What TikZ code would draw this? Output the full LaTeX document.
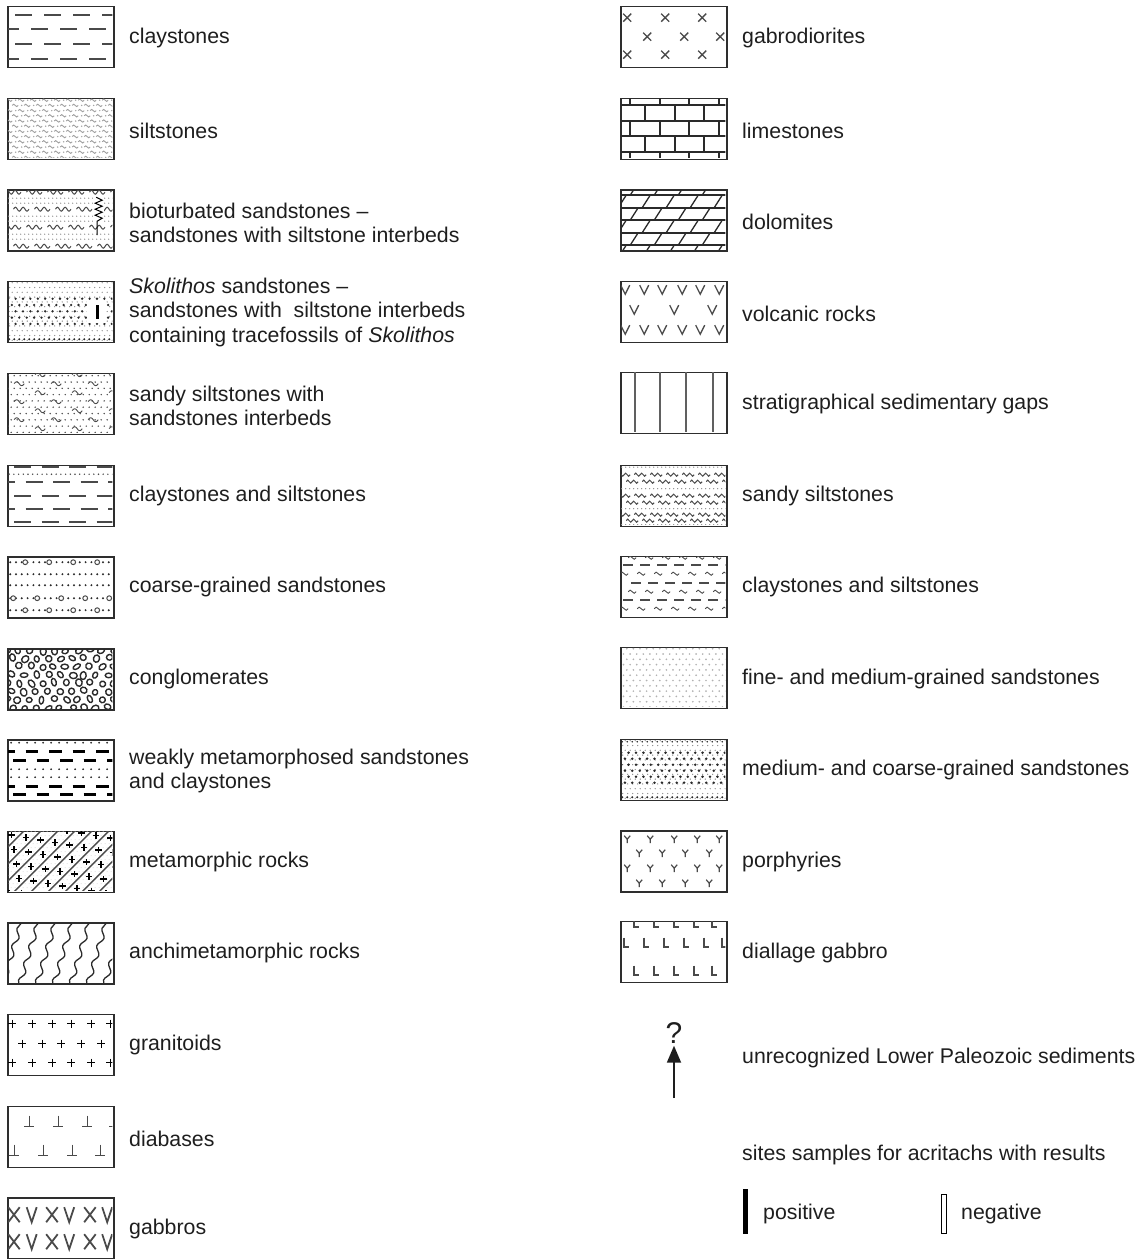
\documentclass[tikz,border=0pt]{standalone}
\usepackage{fontspec}
\setmainfont{Liberation Sans}
\usetikzlibrary{arrows.meta,decorations.pathmorphing}
\definecolor{boxc}{HTML}{2E2E2E}
\definecolor{txtc}{HTML}{1E1E1E}
\definecolor{patc}{HTML}{4A4A4A}
\definecolor{lightc}{HTML}{8C8C8C}
\definecolor{darkc}{HTML}{2A2A2A}
\newcommand\legpat[2]{\begin{scope}[shift={(#1.north west)}]\clip (0.9,0.9) rectangle (105.1,60.1);#2\end{scope}}
\tikzset{
 wv/.pic={\draw[line width=0.9] (-5,0) .. controls (-3.6,-2.6) and (-1.4,-2.6) .. (0,0) .. controls (1.4,2.6) and (3.6,2.6) .. (5,0);},
 wvd/.pic={\draw[line width=1] (-7,0) sin (-5.25,-1.8) cos (-3.5,0) sin (-1.75,1.8) cos (0,0) sin (1.75,-1.8) cos (3.5,0) sin (5.25,1.8) cos (7,0);},
 crs/.pic={\draw[line width=1.2] (-3.2,0) -- (3.2,0) (0,-3.2) -- (0,3.2);},
 xpic/.pic={\draw[line width=1.3] (-4,-4) -- (4,4) (-4,4) -- (4,-4);},
 vpic/.pic={\draw[line width=1.3] (-4.5,-4.5) -- (0,4.5) -- (4.5,-4.5);},
 tpic/.pic={\draw[line width=1.3] (0,-11) -- (0,0) (-5,0) -- (5,0);},
 ypic/.pic={\draw[line width=1.2] (-3,-3.5) -- (0,0) -- (3,-3.5) (0,0) -- (0,4);},
 lpic/.pic={\draw[line width=1.8] (0,-9) -- (0,0) -- (5,0);},
}
\begin{document}
\begin{tikzpicture}[x=1pt,y=-1pt,
  lbox/.style={draw=boxc, line width=1.6, minimum width=106, minimum height=61, inner sep=0},
  lab/.style={anchor=west, inner sep=0, align=left, yshift=-2pt, font=\fontsize{21.3}{24.5}\selectfont, text=txtc}]
\useasboundingbox (0,0) rectangle (1141,1259);

% ---------- LEFT COLUMN ----------
% L1 claystones
\node[lbox] (L1) at (61,37) {};
\legpat{L1}{\foreach \v/\o in {9/8,23/-5,38/8,53/-5} \foreach \k in {0,...,4} \draw[patc,line width=2.2] ({\o+29*\k},\v) -- ++(17,0);}
\node[lab] (t1) at (129,36) {claystones};

% L2 siltstones
\node[lbox] (L2) at (61,129) {};
\legpat{L2}{\foreach \r in {0,...,11} \foreach \k in {0,...,9} {
  \pic[gray!75,scale=0.6] at ({mod(\r,2)*6+12*\k+2},{2.5+5.2*\r}) {wv};
  \fill[gray!70] ({mod(\r,2)*6+12*\k+8.5},{2.5+5.2*\r}) circle (0.8);}}
\node[lab] (t2) at (129,129) {siltstones};

% L3 bioturbated sandstones
\node[lbox] (L3) at (61,220.5) {};
\legpat{L3}{
 \foreach \v in {9,14,27,32,45,50} \foreach \k in {0,...,26} \fill[lightc] ({1.5+4*\k},\v) circle (0.7);
 \foreach \v/\o in {3/6,20/14,38/6,57/14} \foreach \k in {0,...,5} \pic[patc,scale=1.1] at ({\o+21*\k},\v) {wvd};
 \fill[white] (86,7) rectangle (97,34);
 \draw[black,line width=1] (89,8) -- (95,11) -- (88,14) -- (95,17) -- (88,20) -- (95,23) -- (88,26) -- (95,29) -- (90,32) -- (90,46);}
\node[lab] (t3) at (129,221) {bioturbated sandstones –\\sandstones with siltstone interbeds};

% L4 Skolithos sandstones
\node[lbox] (L4) at (61,312) {};
\legpat{L4}{
 \foreach \r in {0,...,12} \foreach \k in {0,...,22} \fill[lightc] ({mod(\r,2)*2.5+5*\k},{2+4.8*\r}) circle (0.7);
 \foreach \r in {0,...,4} \foreach \k in {0,...,14} \fill[darkc] ({mod(\r,2)*3.7+7.4*\k+1},{18+6.3*\r}) circle (1.3);
 \foreach \k in {0,...,21} \fill[darkc] ({2+5*\k},58.5) circle (1.1);
 \fill[white] (80,20) rectangle (99,42);
 \fill[black] (88.5,24) rectangle (91.5,38);}
\node[lab] (t4) at (129,310) {\textit{Skolithos} sandstones –\\sandstones with\ \ siltstone interbeds\\containing tracefossils of \textit{Skolithos}};

% L5 sandy siltstones with sandstones interbeds
\node[lbox] (L5) at (61,404) {};
\legpat{L5}{
 \foreach \r in {0,...,9} \foreach \k in {0,...,18} \fill[patc] ({mod(\r,2)*3+6*\k+1},{3+6.3*\r}) circle (0.8);
 \foreach \r in {0,...,6} \foreach \k in {0,...,3} \pic[patc] at ({12+21*mod(\r+1,2)+37*\k-37},{2+9*\r}) {wv};}
\node[lab] (t5) at (129,404) {sandy siltstones with\\sandstones interbeds};

% L6 claystones and siltstones
\node[lbox] (L6) at (61,496) {};
\legpat{L6}{
 \foreach \v/\o in {2/7,17/-9,31/7,44/-9,57/7} \foreach \k in {0,...,4} \draw[patc,line width=2.2] ({\o+27.5*\k},\v) -- ++(17,0);
 \foreach \k in {0,...,22} \fill[patc] ({2+4.7*\k},9.5) circle (0.8);}
\node[lab] (t6) at (129,494) {claystones and siltstones};

% L7 coarse-grained sandstones
\node[lbox] (L7) at (61,587.5) {};
\legpat{L7}{
 \foreach \v in {6,18,29,42,54} \foreach \k in {0,...,18} \fill[darkc] ({3+5.8*\k},\v) circle (1.1);
 \foreach \v/\o in {6/18,42/6,54/18} \foreach \k in {0,...,4} \filldraw[fill=white,draw=patc,line width=1] ({\o+24*\k},\v) circle (2.4);}
\node[lab] (t7) at (129,585) {coarse-grained sandstones};

% L8 conglomerates
\node[lbox] (L8) at (61,679.5) {};
\legpat{L8}{\pgfmathsetseed{11}
 \foreach \r in {0,...,7}{\foreach \k in {0,...,9}{
  \pgfmathsetmacro\cgx{mod(\r,2)*6+12*\k-1+1.5*rand}
  \pgfmathsetmacro\cgy{2+8.2*\r+1.2*rand}
  \pgfmathsetmacro\cga{2.8+1.4*rnd}
  \pgfmathsetmacro\cgb{2.2+1.1*rnd}
  \pgfmathsetmacro\cgr{180*rnd}
  \draw[darkc,line width=1.4,rotate around={\cgr:(\cgx,\cgy)}] (\cgx,\cgy) ellipse ({\cga} and {\cgb});}}}
\node[lab] (t8) at (129,677) {conglomerates};

% L9 weakly metamorphosed
\node[lbox] (L9) at (61,770.5) {};
\legpat{L9}{
 \foreach \v in {3.5,30,38} \foreach \k in {0,...,13} \fill[black!85] ({4+8*\k},\v) circle (1);
 \foreach \v/\o in {12.5/-5,21.5/6,47/-5,55/6} \foreach \k in {0,...,5} \draw[black,line width=2.6] ({\o+23.5*\k},\v) -- ++(12.5,0);}
\node[lab] (t9) at (129,769) {weakly metamorphosed sandstones\\and claystones};

% L10 metamorphic rocks
\node[lbox] (L10) at (61,862) {};
\legpat{L10}{
 \foreach \r in {0,...,15} \foreach \k in {0,...,26} \fill[gray!35] ({mod(\r,2)*2+4*\k},{1+4*\r}) circle (0.5);
 \foreach \k in {0,...,10} \draw[patc,line width=1.3] ({-61+17*\k},61) -- ({17*\k},0);
 \foreach \k in {0,...,9} \foreach \m in {-3,...,4} \pic[black] at ({(8.5+17*\k+24*\m+12*mod(\k,2))/2},{(8.5+17*\k-24*\m-12*mod(\k,2))/2}) {crs};}
\node[lab] (t10) at (129,860) {metamorphic rocks};

% L11 anchimetamorphic rocks
\node[lbox] (L11) at (61,953.5) {};
\legpat{L11}{
 \foreach \k in {0,...,8} \draw[darkc,line width=1.3,decorate,decoration={snake,amplitude=2.4,segment length=18}] ({-22+17*\k},64) -- ({-2+17*\k},-3);}
\node[lab] (t11) at (129,951) {anchimetamorphic rocks};

% L12 granitoids
\node[lbox] (L12) at (61,1045) {};
\legpat{L12}{
 \foreach \x in {5,25,45,64,84,103} {\pic[black,scale=1.25] at (\x,10) {crs}; \pic[black,scale=1.25] at (\x,49) {crs};}
 \foreach \x in {15,35,54,74,94} \pic[black,scale=1.25] at (\x,30) {crs};}
\node[lab] (t12) at (129,1043) {granitoids};

% L13 diabases
\node[lbox] (L13) at (61,1137) {};
\legpat{L13}{
 \foreach \x in {22,51,80,107} \pic[patc] at (\x,21) {tpic};
 \foreach \x in {7,36,65,93} \pic[patc] at (\x,50) {tpic};}
\node[lab] (t13) at (129,1137) {diabases};

% L14 gabbros
\node[lbox] (L14) at (61,1228.5) {};
\legpat{L14}{
 \foreach \v in {10,37} {
  \foreach \x in {1,39,77} \draw[patc,line width=1.8] (\x,\v) -- ++(11.5,15) ++(0,-15) -- ++(-11.5,15);
  \foreach \x in {19.5,57,95} \draw[patc,line width=1.8] (\x,\v) -- ++(5,15) -- ++(5,-15);}}
\node[lab] (t14) at (129,1227) {gabbros};

% ---------- RIGHT COLUMN ----------
% R1 gabrodiorites
\node[lbox] (R1) at (674,37) {};
\legpat{R1}{
 \foreach \x in {7,45,82} {\pic[patc] at (\x,12) {xpic}; \pic[patc] at (\x,49) {xpic};}
 \foreach \x in {27,64,100} \pic[patc] at (\x,31) {xpic};}
\node[lab] (r1) at (742,36) {gabrodiorites};

% R2 limestones
\node[lbox] (R2) at (674,129) {};
\legpat{R2}{
 \foreach \v in {7,23,38,54} \draw[darkc,line width=2] (0,\v) -- (106,\v);
 \foreach \a/\b in {0/7,23/38,54/61} \foreach \x in {10,40,69,99} \draw[darkc,line width=2] (\x,\a) -- (\x,\b);
 \foreach \a/\b in {7/23,38/54} \foreach \x in {25,55,84} \draw[darkc,line width=2] (\x,\a) -- (\x,\b);}
\node[lab] (r2) at (742,129) {limestones};

% R3 dolomites
\node[lbox] (R3) at (674,220.5) {};
\legpat{R3}{
 \foreach \v in {6,18.5,31,43.5,56} \draw[darkc,line width=1.6] (0,\v) -- (106,\v);
 \foreach \a/\b/\o in {-6.5/6/14,6/18.5/2,18.5/31/14,31/43.5/2,43.5/56/14,56/68.5/2} \foreach \k in {0,...,5} \draw[darkc,line width=1.3] ({\o+24*\k-4},\b) -- ({\o+24*\k+4},\a);}
\node[lab] (r3) at (742,220) {dolomites};

% R4 volcanic rocks
\node[lbox] (R4) at (674,312) {};
\legpat{R4}{
 \foreach \x in {5,24,42,62,80,99} {\pic[patc] at (\x,9) {vpic}; \pic[patc] at (\x,49) {vpic};}
 \foreach \x in {14,54,92} \pic[patc] at (\x,29) {vpic};}
\node[lab] (r4) at (742,312) {volcanic rocks};

% R5 stratigraphical gaps
\node[lbox] (R5) at (674,403) {};
\legpat{R5}{\foreach \x in {15,40,66,93} \draw[gray!75!black,line width=2] (\x,0) -- (\x,61);}
\node[lab] (r5) at (742,402) {stratigraphical sedimentary gaps};

% R6 sandy siltstones
\node[lbox] (R6) at (674,496) {};
\legpat{R6}{
 \foreach \v in {2.5,24,44,60} \foreach \k in {0,...,26} \fill[lightc] ({1.5+4*\k},\v) circle (0.7);
 \foreach \v/\o in {10/4,17/12,31/4,38/12,50/4,56/12} \foreach \k in {0,...,7} \pic[patc,scale=0.85] at ({\o+16*\k},\v) {wvd};}
\node[lab] (r6) at (742,494) {sandy siltstones};

% R7 claystones and siltstones
\node[lbox] (R7) at (674,587) {};
\legpat{R7}{
 \foreach \v/\o in {9/3,27/11,44/3,61/11} \foreach \k in {0,...,6} \draw[patc,line width=1.8] ({\o+17*\k},\v) -- ++(10,0);
 \foreach \v/\o in {2/12,18/4,36/12,53/4} \foreach \k in {0,...,6} \pic[patc,scale=0.8] at ({\o+17*\k},\v) {wv};}
\node[lab] (r7) at (742,585) {claystones and siltstones};

% R8 fine- and medium-grained sandstones
\node[lbox] (R8) at (674,678) {};
\legpat{R8}{\foreach \r in {0,...,11} \foreach \k in {0,...,16} \fill[gray!60] ({mod(\r,2)*3.3+6.6*\k},{2+5.3*\r}) circle (0.95);}
\node[lab] (r8) at (742,677) {fine- and medium-grained sandstones};

% R9 medium- and coarse-grained sandstones
\node[lbox] (R9) at (674,770) {};
\legpat{R9}{
 \foreach \r in {0,...,12} \foreach \k in {0,...,22} \fill[lightc] ({mod(\r,2)*2.5+5*\k},{2+4.8*\r}) circle (0.7);
 \foreach \k in {0,...,21} \fill[darkc] ({2+5*\k},3) circle (0.9);
 \foreach \r in {0,...,5} \foreach \k in {0,...,14} \fill[darkc] ({mod(\r,2)*3.7+7.4*\k+1},{14+6*\r}) circle (1.4);
 \foreach \k in {0,...,21} \fill[darkc] ({2+5*\k},58.5) circle (1.1);}
\node[lab] (r9) at (742,768) {medium- and coarse-grained sandstones};

% R10 porphyries
\node[lbox] (R10) at (674,861.5) {};
\legpat{R10}{
 \foreach \x in {7,30,54,77,99} {\pic[patc] at (\x,9) {ypic}; \pic[patc] at (\x,38) {ypic};}
 \foreach \x in {19,42,65,89} {\pic[patc] at (\x,23) {ypic}; \pic[patc] at (\x,53) {ypic};}}
\node[lab] (r10) at (742,860) {porphyries};

% R11 diallage gabbro
\node[lbox] (R11) at (674,952) {};
\legpat{R11}{
 \foreach \x in {14,34,54,74,92} {\pic[patc] at (\x,6) {lpic}; \pic[patc] at (\x,54) {lpic};}
 \foreach \x in {4,24,44,64,84,102} \pic[patc] at (\x,26) {lpic};}
\node[lab] (r11) at (742,951) {diallage gabbro};

% unrecognized sediments arrow
\node[anchor=center,inner sep=0,text=txtc,font=\fontsize{30}{32}\selectfont] (q) at (674,1033) {?};
\coordinate (ab) at (674,1098);
\draw[txtc,line width=1.8,shorten >=2,-{Triangle[length=17,width=14]}] (ab) -- (q.south);
\node[lab] (r12) at (742,1056) {unrecognized Lower Paleozoic sediments};

% sites samples
\node[lab] (r13) at (742,1153) {sites samples for acritachs with results};
\node[fill=black,inner sep=0,minimum width=5,minimum height=45] (pos) at (745.5,1211.5) {};
\node[lab] (r14) at (763,1212) {positive};
\node[draw=black,line width=1,inner sep=0,minimum width=5,minimum height=39] (neg) at (943.5,1213.5) {};
\node[lab] (r15) at (961,1212) {negative};
\end{tikzpicture}
\end{document}
